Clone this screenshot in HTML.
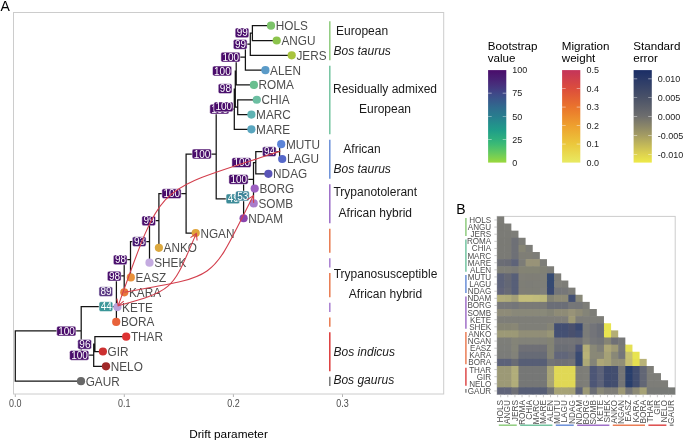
<!DOCTYPE html>
<html><head><meta charset="utf-8"><style>
html,body{margin:0;padding:0;background:#fff;}
svg{display:block;}
text{font-family:"Liberation Sans",sans-serif;}
</style></head><body>
<div style="will-change:transform;width:685px;height:441px"><svg width="685" height="441" viewBox="0 0 685 441">
<rect width="685" height="441" fill="#fff"/>
<rect x="13.5" y="12.5" width="430.2" height="381.5" fill="none" stroke="#cccccc" stroke-width="1"/>
<text x="0.5" y="11" font-size="14" font-family="Liberation Sans, sans-serif" fill="#000">A</text>
<line x1="15.3" y1="394.3" x2="15.3" y2="397" stroke="#b3b3b3" stroke-width="1"/>
<text transform="translate(15.3,406.9) scale(1,1.12)" font-size="9" text-anchor="middle" font-family="Liberation Sans, sans-serif" fill="#4d4d4d">0.0</text>
<line x1="124.3" y1="394.3" x2="124.3" y2="397" stroke="#b3b3b3" stroke-width="1"/>
<text transform="translate(124.3,406.9) scale(1,1.12)" font-size="9" text-anchor="middle" font-family="Liberation Sans, sans-serif" fill="#4d4d4d">0.1</text>
<line x1="233.4" y1="394.3" x2="233.4" y2="397" stroke="#b3b3b3" stroke-width="1"/>
<text transform="translate(233.4,406.9) scale(1,1.12)" font-size="9" text-anchor="middle" font-family="Liberation Sans, sans-serif" fill="#4d4d4d">0.2</text>
<line x1="342.5" y1="394.3" x2="342.5" y2="397" stroke="#b3b3b3" stroke-width="1"/>
<text transform="translate(342.5,406.9) scale(1,1.12)" font-size="9" text-anchor="middle" font-family="Liberation Sans, sans-serif" fill="#4d4d4d">0.3</text>
<text x="228.5" y="437.5" font-size="11.8" text-anchor="middle" font-family="Liberation Sans, sans-serif" fill="#000">Drift parameter</text>
<path d="M252.40 25.70V40.51M252.40 25.70H271.00M252.40 40.51H276.70M250.30 33.10V55.32M250.30 33.10H252.40M250.30 55.32H291.70M245.40 44.21V70.13M245.40 44.21H250.30M245.40 70.13H265.40M236.20 57.17V84.94M236.20 57.17H245.40M236.20 84.94H253.90M237.70 99.75V114.56M237.70 99.75H256.80M237.70 114.56H251.40M235.30 71.06V107.16M235.30 71.06H236.20M235.30 107.16H237.70M234.30 89.11V129.37M234.30 89.11H235.30M234.30 129.37H251.40M279.60 144.18V158.99M279.60 144.18H281.20M279.60 158.99H282.20M255.80 151.58V173.80M255.80 151.58H279.60M255.80 173.80H268.40M253.50 188.61V203.42M253.50 188.61H254.70M253.50 203.42H253.70M253.50 162.69V196.01M253.50 162.69H255.80M243.60 179.35V218.23M243.60 179.35H253.50M216.20 109.24V198.79M216.20 109.24H234.30M216.20 198.79H243.60M186.10 154.01V233.04M186.10 154.01H216.20M186.10 233.04H195.70M158.90 193.53V247.85M158.90 193.53H186.10M149.50 220.69V262.66M149.50 220.69H158.90M130.50 241.67V277.47M130.50 241.67H149.50M130.50 277.47H130.80M124.20 259.57V292.28M124.20 259.57H130.50M124.20 292.28H124.30M116.40 275.93V307.09M116.40 275.93H124.20M116.40 307.09H117.40M116.40 291.51V321.90M116.40 321.90H116.20M94.90 336.71V351.52M94.90 336.71H126.20M94.90 351.52H102.90M93.70 344.12V366.33M93.70 344.12H94.90M93.70 366.33H106.00M81.20 306.70V355.22M81.20 306.70H116.40M81.20 355.22H93.70M15.30 330.96V381.14M15.30 330.96H81.20M15.30 381.14H81.00" fill="none" stroke="#141414" stroke-width="1.25" stroke-linecap="square"/>
<rect x="235.15" y="27.90" width="13.7" height="9.8" rx="1.8" fill="#4a0e6c" stroke="#fff" stroke-width="0.5"/>
<text x="242.30" y="36.35" font-size="10" text-anchor="middle" font-family="Liberation Sans, sans-serif" fill="#fff">99</text>
<rect x="233.35" y="39.50" width="13.7" height="9.8" rx="1.8" fill="#4a0e6c" stroke="#fff" stroke-width="0.5"/>
<text x="240.50" y="47.95" font-size="10" text-anchor="middle" font-family="Liberation Sans, sans-serif" fill="#fff">99</text>
<rect x="220.90" y="52.20" width="19.2" height="9.8" rx="1.8" fill="#4a0c6b" stroke="#fff" stroke-width="0.5"/>
<text x="230.80" y="60.65" font-size="10" text-anchor="middle" font-family="Liberation Sans, sans-serif" fill="#fff">100</text>
<rect x="212.50" y="66.10" width="19.2" height="9.8" rx="1.8" fill="#4a0c6b" stroke="#fff" stroke-width="0.5"/>
<text x="222.40" y="74.55" font-size="10" text-anchor="middle" font-family="Liberation Sans, sans-serif" fill="#fff">100</text>
<rect x="218.25" y="83.80" width="13.7" height="9.8" rx="1.8" fill="#4a106d" stroke="#fff" stroke-width="0.5"/>
<text x="225.40" y="92.25" font-size="10" text-anchor="middle" font-family="Liberation Sans, sans-serif" fill="#fff">98</text>
<rect x="209.80" y="104.20" width="19.2" height="9.8" rx="1.8" fill="#4a0c6b" stroke="#fff" stroke-width="0.5"/>
<text x="219.70" y="112.65" font-size="10" text-anchor="middle" font-family="Liberation Sans, sans-serif" fill="#fff">100</text>
<rect x="213.90" y="102.00" width="19.2" height="9.8" rx="1.8" fill="#4a0c6b" stroke="#fff" stroke-width="0.5"/>
<text x="223.80" y="110.45" font-size="10" text-anchor="middle" font-family="Liberation Sans, sans-serif" fill="#fff">100</text>
<rect x="192.10" y="149.10" width="19.2" height="9.8" rx="1.8" fill="#4a0c6b" stroke="#fff" stroke-width="0.5"/>
<text x="202.00" y="157.55" font-size="10" text-anchor="middle" font-family="Liberation Sans, sans-serif" fill="#fff">100</text>
<rect x="231.90" y="157.70" width="19.2" height="9.8" rx="1.8" fill="#4a0c6b" stroke="#fff" stroke-width="0.5"/>
<text x="241.80" y="166.15" font-size="10" text-anchor="middle" font-family="Liberation Sans, sans-serif" fill="#fff">100</text>
<rect x="262.45" y="146.80" width="13.7" height="9.8" rx="1.8" fill="#491971" stroke="#fff" stroke-width="0.5"/>
<text x="269.60" y="155.25" font-size="10" text-anchor="middle" font-family="Liberation Sans, sans-serif" fill="#fff">94</text>
<rect x="228.90" y="174.50" width="19.2" height="9.8" rx="1.8" fill="#4a0c6b" stroke="#fff" stroke-width="0.5"/>
<text x="238.80" y="182.95" font-size="10" text-anchor="middle" font-family="Liberation Sans, sans-serif" fill="#fff">100</text>
<rect x="161.90" y="188.80" width="19.2" height="9.8" rx="1.8" fill="#4a0c6b" stroke="#fff" stroke-width="0.5"/>
<text x="171.80" y="197.25" font-size="10" text-anchor="middle" font-family="Liberation Sans, sans-serif" fill="#fff">100</text>
<rect x="226.05" y="193.90" width="13.7" height="9.8" rx="1.8" fill="#3d8c99" stroke="#fff" stroke-width="0.5"/>
<text x="233.20" y="202.35" font-size="10" text-anchor="middle" font-family="Liberation Sans, sans-serif" fill="#fff">49</text>
<rect x="235.55" y="191.10" width="13.7" height="9.8" rx="1.8" fill="#3f8599" stroke="#fff" stroke-width="0.5"/>
<text x="242.70" y="199.55" font-size="10" text-anchor="middle" font-family="Liberation Sans, sans-serif" fill="#fff">53</text>
<rect x="141.85" y="215.90" width="13.7" height="9.8" rx="1.8" fill="#4a0e6c" stroke="#fff" stroke-width="0.5"/>
<text x="149.00" y="224.35" font-size="10" text-anchor="middle" font-family="Liberation Sans, sans-serif" fill="#fff">99</text>
<rect x="132.35" y="236.80" width="13.7" height="9.8" rx="1.8" fill="#491b72" stroke="#fff" stroke-width="0.5"/>
<text x="139.50" y="245.25" font-size="10" text-anchor="middle" font-family="Liberation Sans, sans-serif" fill="#fff">93</text>
<rect x="113.35" y="254.90" width="13.7" height="9.8" rx="1.8" fill="#4a106d" stroke="#fff" stroke-width="0.5"/>
<text x="120.50" y="263.35" font-size="10" text-anchor="middle" font-family="Liberation Sans, sans-serif" fill="#fff">98</text>
<rect x="107.35" y="271.20" width="13.7" height="9.8" rx="1.8" fill="#4a106d" stroke="#fff" stroke-width="0.5"/>
<text x="114.50" y="279.65" font-size="10" text-anchor="middle" font-family="Liberation Sans, sans-serif" fill="#fff">98</text>
<rect x="98.95" y="286.70" width="13.7" height="9.8" rx="1.8" fill="#5a3a84" stroke="#fff" stroke-width="0.5"/>
<text x="106.10" y="295.15" font-size="10" text-anchor="middle" font-family="Liberation Sans, sans-serif" fill="#fff">89</text>
<rect x="99.05" y="301.70" width="13.7" height="9.8" rx="1.8" fill="#3a9698" stroke="#fff" stroke-width="0.5"/>
<text x="106.20" y="310.15" font-size="10" text-anchor="middle" font-family="Liberation Sans, sans-serif" fill="#fff">44</text>
<rect x="56.70" y="326.20" width="19.2" height="9.8" rx="1.8" fill="#4a0c6b" stroke="#fff" stroke-width="0.5"/>
<text x="66.60" y="334.65" font-size="10" text-anchor="middle" font-family="Liberation Sans, sans-serif" fill="#fff">100</text>
<rect x="77.75" y="339.40" width="13.7" height="9.8" rx="1.8" fill="#49156f" stroke="#fff" stroke-width="0.5"/>
<text x="84.90" y="347.85" font-size="10" text-anchor="middle" font-family="Liberation Sans, sans-serif" fill="#fff">96</text>
<rect x="69.60" y="350.40" width="19.2" height="9.8" rx="1.8" fill="#4a0c6b" stroke="#fff" stroke-width="0.5"/>
<text x="79.50" y="358.85" font-size="10" text-anchor="middle" font-family="Liberation Sans, sans-serif" fill="#fff">100</text>
<circle cx="271" cy="25.70" r="4.1" fill="#7cc36a"/>
<circle cx="276.7" cy="40.51" r="4.1" fill="#8cc44c"/>
<circle cx="291.7" cy="55.32" r="4.1" fill="#a8c43e"/>
<circle cx="265.4" cy="70.13" r="4.1" fill="#5b9bc8"/>
<circle cx="253.9" cy="84.94" r="4.1" fill="#6abf90"/>
<circle cx="256.8" cy="99.75" r="4.1" fill="#6cbfa2"/>
<circle cx="251.4" cy="114.56" r="4.1" fill="#5fb3b3"/>
<circle cx="251.4" cy="129.37" r="4.1" fill="#5aa6bf"/>
<circle cx="281.2" cy="144.18" r="4.1" fill="#5b84d8"/>
<circle cx="282.2" cy="158.99" r="4.1" fill="#5668c9"/>
<circle cx="268.4" cy="173.80" r="4.1" fill="#5a55b8"/>
<circle cx="254.7" cy="188.61" r="4.1" fill="#9c60c2"/>
<circle cx="253.7" cy="203.42" r="4.1" fill="#a87ccb"/>
<circle cx="243.6" cy="218.23" r="4.1" fill="#8a45ad"/>
<circle cx="195.7" cy="233.04" r="4.1" fill="#e0a33a"/>
<circle cx="158.9" cy="247.85" r="4.1" fill="#dba83e"/>
<circle cx="149.5" cy="262.66" r="4.1" fill="#c4abe0"/>
<circle cx="130.8" cy="277.47" r="4.1" fill="#e8913a"/>
<circle cx="124.3" cy="292.28" r="4.1" fill="#e8783a"/>
<circle cx="117.4" cy="307.09" r="4.1" fill="#b9a2da"/>
<circle cx="116.2" cy="321.90" r="4.1" fill="#e8623a"/>
<circle cx="126.2" cy="336.71" r="4.1" fill="#dd3333"/>
<circle cx="102.9" cy="351.52" r="4.1" fill="#cc3030"/>
<circle cx="106" cy="366.33" r="4.1" fill="#a02828"/>
<circle cx="81" cy="381.14" r="4.1" fill="#686868"/>
<text transform="translate(275.70,30.20) scale(1,1.12)" font-size="11.8" font-family="Liberation Sans, sans-serif" fill="#4d4d4d">HOLS</text>
<text transform="translate(281.40,45.01) scale(1,1.12)" font-size="11.8" font-family="Liberation Sans, sans-serif" fill="#4d4d4d">ANGU</text>
<text transform="translate(296.40,59.82) scale(1,1.12)" font-size="11.8" font-family="Liberation Sans, sans-serif" fill="#4d4d4d">JERS</text>
<text transform="translate(270.10,74.63) scale(1,1.12)" font-size="11.8" font-family="Liberation Sans, sans-serif" fill="#4d4d4d">ALEN</text>
<text transform="translate(258.60,89.44) scale(1,1.12)" font-size="11.8" font-family="Liberation Sans, sans-serif" fill="#4d4d4d">ROMA</text>
<text transform="translate(261.50,104.25) scale(1,1.12)" font-size="11.8" font-family="Liberation Sans, sans-serif" fill="#4d4d4d">CHIA</text>
<text transform="translate(256.10,119.06) scale(1,1.12)" font-size="11.8" font-family="Liberation Sans, sans-serif" fill="#4d4d4d">MARC</text>
<text transform="translate(256.10,133.87) scale(1,1.12)" font-size="11.8" font-family="Liberation Sans, sans-serif" fill="#4d4d4d">MARE</text>
<text transform="translate(285.90,148.68) scale(1,1.12)" font-size="11.8" font-family="Liberation Sans, sans-serif" fill="#4d4d4d">MUTU</text>
<text transform="translate(286.90,163.49) scale(1,1.12)" font-size="11.8" font-family="Liberation Sans, sans-serif" fill="#4d4d4d">LAGU</text>
<text transform="translate(273.10,178.30) scale(1,1.12)" font-size="11.8" font-family="Liberation Sans, sans-serif" fill="#4d4d4d">NDAG</text>
<text transform="translate(259.40,193.11) scale(1,1.12)" font-size="11.8" font-family="Liberation Sans, sans-serif" fill="#4d4d4d">BORG</text>
<text transform="translate(258.40,207.92) scale(1,1.12)" font-size="11.8" font-family="Liberation Sans, sans-serif" fill="#4d4d4d">SOMB</text>
<text transform="translate(248.30,222.73) scale(1,1.12)" font-size="11.8" font-family="Liberation Sans, sans-serif" fill="#4d4d4d">NDAM</text>
<text transform="translate(200.40,237.54) scale(1,1.12)" font-size="11.8" font-family="Liberation Sans, sans-serif" fill="#4d4d4d">NGAN</text>
<text transform="translate(163.60,252.35) scale(1,1.12)" font-size="11.8" font-family="Liberation Sans, sans-serif" fill="#4d4d4d">ANKO</text>
<text transform="translate(154.20,267.16) scale(1,1.12)" font-size="11.8" font-family="Liberation Sans, sans-serif" fill="#4d4d4d">SHEK</text>
<text transform="translate(135.50,281.97) scale(1,1.12)" font-size="11.8" font-family="Liberation Sans, sans-serif" fill="#4d4d4d">EASZ</text>
<text transform="translate(129.00,296.78) scale(1,1.12)" font-size="11.8" font-family="Liberation Sans, sans-serif" fill="#4d4d4d">KARA</text>
<text transform="translate(122.10,311.59) scale(1,1.12)" font-size="11.8" font-family="Liberation Sans, sans-serif" fill="#4d4d4d">KETE</text>
<text transform="translate(120.90,326.40) scale(1,1.12)" font-size="11.8" font-family="Liberation Sans, sans-serif" fill="#4d4d4d">BORA</text>
<text transform="translate(130.90,341.21) scale(1,1.12)" font-size="11.8" font-family="Liberation Sans, sans-serif" fill="#4d4d4d">THAR</text>
<text transform="translate(107.60,356.02) scale(1,1.12)" font-size="11.8" font-family="Liberation Sans, sans-serif" fill="#4d4d4d">GIR</text>
<text transform="translate(110.70,370.83) scale(1,1.12)" font-size="11.8" font-family="Liberation Sans, sans-serif" fill="#4d4d4d">NELO</text>
<text transform="translate(85.70,385.64) scale(1,1.12)" font-size="11.8" font-family="Liberation Sans, sans-serif" fill="#4d4d4d">GAUR</text>
<path d="M280.40 151.10C154.95 193.35 164.49 176.28 118.20 305.80" fill="none" stroke="#d33f4d" stroke-width="1.1"/>
<path d="M123.69 301.14L118.20 305.80L116.91 298.72" fill="none" stroke="#d33f4d" stroke-width="1.1" stroke-linejoin="miter"/>
<path d="M118.20 305.80C176.43 289.83 172.39 288.29 196.30 233.40" fill="none" stroke="#d33f4d" stroke-width="1.1"/>
<path d="M190.51 237.68L196.30 233.40L197.11 240.55" fill="none" stroke="#d33f4d" stroke-width="1.1" stroke-linejoin="miter"/>
<path d="M124.30 292.20C221.73 274.90 209.41 281.25 253.30 195.70" fill="none" stroke="#d33f4d" stroke-width="1.1"/>
<path d="M247.25 199.60L253.30 195.70L253.66 202.89" fill="none" stroke="#d33f4d" stroke-width="1.1" stroke-linejoin="miter"/>
<line x1="329.8" y1="21.30" x2="329.8" y2="60.22" stroke="#8fcc7e" stroke-width="1.5"/>
<line x1="329.8" y1="65.73" x2="329.8" y2="134.27" stroke="#74c4a0" stroke-width="1.5"/>
<line x1="329.8" y1="139.78" x2="329.8" y2="178.70" stroke="#6a8fd8" stroke-width="1.5"/>
<line x1="329.8" y1="184.21" x2="329.8" y2="223.13" stroke="#9b6cc7" stroke-width="1.5"/>
<line x1="329.8" y1="228.64" x2="329.8" y2="252.75" stroke="#e8794e" stroke-width="1.5"/>
<line x1="329.8" y1="258.26" x2="329.8" y2="267.56" stroke="#a87ed0" stroke-width="1.5"/>
<line x1="329.8" y1="273.07" x2="329.8" y2="297.18" stroke="#e8794e" stroke-width="1.5"/>
<line x1="329.8" y1="302.69" x2="329.8" y2="311.99" stroke="#a87ed0" stroke-width="1.5"/>
<line x1="329.8" y1="317.50" x2="329.8" y2="326.80" stroke="#e8794e" stroke-width="1.5"/>
<line x1="329.8" y1="332.31" x2="329.8" y2="371.23" stroke="#dd3a3a" stroke-width="1.5"/>
<line x1="329.8" y1="376.74" x2="329.8" y2="386.04" stroke="#777777" stroke-width="1.5"/>
<text x="362.1" y="35.2" font-size="12" text-anchor="middle" font-family="Liberation Sans, sans-serif" fill="#1a1a1a">European</text>
<text x="362.2" y="55.2" font-size="12" text-anchor="middle" font-family="Liberation Sans, sans-serif" font-style="italic" fill="#1a1a1a">Bos taurus</text>
<text x="385" y="92.8" font-size="12" text-anchor="middle" font-family="Liberation Sans, sans-serif" fill="#1a1a1a">Residually admixed</text>
<text x="385" y="112.9" font-size="12" text-anchor="middle" font-family="Liberation Sans, sans-serif" fill="#1a1a1a">European</text>
<text x="362" y="152.7" font-size="12" text-anchor="middle" font-family="Liberation Sans, sans-serif" fill="#1a1a1a">African</text>
<text x="362.2" y="173.1" font-size="12" text-anchor="middle" font-family="Liberation Sans, sans-serif" font-style="italic" fill="#1a1a1a">Bos taurus</text>
<text x="375.3" y="196.2" font-size="12" text-anchor="middle" font-family="Liberation Sans, sans-serif" fill="#1a1a1a">Trypanotolerant</text>
<text x="375.3" y="216.7" font-size="12" text-anchor="middle" font-family="Liberation Sans, sans-serif" fill="#1a1a1a">African hybrid</text>
<text x="385.5" y="277.8" font-size="12" text-anchor="middle" font-family="Liberation Sans, sans-serif" fill="#1a1a1a">Trypanosusceptible</text>
<text x="385.5" y="298.3" font-size="12" text-anchor="middle" font-family="Liberation Sans, sans-serif" fill="#1a1a1a">African hybrid</text>
<text x="364.3" y="355.9" font-size="12" text-anchor="middle" font-family="Liberation Sans, sans-serif" font-style="italic" fill="#1a1a1a">Bos indicus</text>
<text x="363.8" y="384.4" font-size="12" text-anchor="middle" font-family="Liberation Sans, sans-serif" font-style="italic" fill="#1a1a1a">Bos gaurus</text>
<defs><linearGradient id="gB" x1="0" y1="0" x2="0" y2="1"><stop offset="0.000" stop-color="#4a0c6b"/><stop offset="0.050" stop-color="#491770"/><stop offset="0.100" stop-color="#482175"/><stop offset="0.150" stop-color="#472d7b"/><stop offset="0.200" stop-color="#433a81"/><stop offset="0.250" stop-color="#3f4788"/><stop offset="0.300" stop-color="#3a538a"/><stop offset="0.350" stop-color="#355e8c"/><stop offset="0.400" stop-color="#306a8e"/><stop offset="0.450" stop-color="#2c748e"/><stop offset="0.500" stop-color="#287d8e"/><stop offset="0.550" stop-color="#25888d"/><stop offset="0.600" stop-color="#22938b"/><stop offset="0.650" stop-color="#1f9d89"/><stop offset="0.700" stop-color="#27a783"/><stop offset="0.750" stop-color="#2fb07d"/><stop offset="0.800" stop-color="#3cba75"/><stop offset="0.850" stop-color="#51c269"/><stop offset="0.900" stop-color="#67ca5d"/><stop offset="0.950" stop-color="#80d24d"/><stop offset="1.000" stop-color="#9bd83c"/></linearGradient><linearGradient id="gM" x1="0" y1="0" x2="0" y2="1"><stop offset="0" stop-color="#c4345a"/><stop offset="0.2" stop-color="#dc4d3c"/><stop offset="0.4" stop-color="#ea742c"/><stop offset="0.6" stop-color="#eea02e"/><stop offset="0.8" stop-color="#ebc83c"/><stop offset="1" stop-color="#e8ea62"/></linearGradient><linearGradient id="gS" x1="0" y1="0" x2="0" y2="1"><stop offset="0" stop-color="#1a2d66"/><stop offset="0.1" stop-color="#2a3a68"/><stop offset="0.3" stop-color="#4a5268"/><stop offset="0.5" stop-color="#6e6e6e"/><stop offset="0.7" stop-color="#a39b63"/><stop offset="0.9" stop-color="#dcd050"/><stop offset="1" stop-color="#eeea48"/></linearGradient></defs>
<text x="487.8" y="50.2" font-size="11.6" font-family="Liberation Sans, sans-serif" fill="#000">Bootstrap</text>
<text x="487.8" y="62.2" font-size="11.6" font-family="Liberation Sans, sans-serif" fill="#000">value</text>
<rect x="488.1" y="70.1" width="18.2" height="92.5" fill="url(#gB)"/>
<text transform="translate(512.3,73.35) scale(1,1.1)" font-size="9" font-family="Liberation Sans, sans-serif" fill="#1a1a1a">100</text>
<line x1="488.1" y1="93.2" x2="491.7" y2="93.2" stroke="#fff" stroke-width="0.6" opacity="0.8"/>
<line x1="502.7" y1="93.2" x2="506.3" y2="93.2" stroke="#fff" stroke-width="0.6" opacity="0.8"/>
<text transform="translate(512.3,96.45) scale(1,1.1)" font-size="9" font-family="Liberation Sans, sans-serif" fill="#1a1a1a">75</text>
<line x1="488.1" y1="116.3" x2="491.7" y2="116.3" stroke="#fff" stroke-width="0.6" opacity="0.8"/>
<line x1="502.7" y1="116.3" x2="506.3" y2="116.3" stroke="#fff" stroke-width="0.6" opacity="0.8"/>
<text transform="translate(512.3,119.55) scale(1,1.1)" font-size="9" font-family="Liberation Sans, sans-serif" fill="#1a1a1a">50</text>
<line x1="488.1" y1="139.4" x2="491.7" y2="139.4" stroke="#fff" stroke-width="0.6" opacity="0.8"/>
<line x1="502.7" y1="139.4" x2="506.3" y2="139.4" stroke="#fff" stroke-width="0.6" opacity="0.8"/>
<text transform="translate(512.3,142.65) scale(1,1.1)" font-size="9" font-family="Liberation Sans, sans-serif" fill="#1a1a1a">25</text>
<text transform="translate(512.3,165.75) scale(1,1.1)" font-size="9" font-family="Liberation Sans, sans-serif" fill="#1a1a1a">0</text>
<text x="561.8" y="50.2" font-size="11.6" font-family="Liberation Sans, sans-serif" fill="#000">Migration</text>
<text x="561.8" y="62.2" font-size="11.6" font-family="Liberation Sans, sans-serif" fill="#000">weight</text>
<rect x="562.0999999999999" y="70.1" width="18.2" height="92.5" fill="url(#gM)"/>
<text transform="translate(586.4,73.35) scale(1,1.1)" font-size="9" font-family="Liberation Sans, sans-serif" fill="#1a1a1a">0.5</text>
<line x1="562.0999999999999" y1="88.6" x2="565.6999999999999" y2="88.6" stroke="#fff" stroke-width="0.6" opacity="0.8"/>
<line x1="576.6999999999999" y1="88.6" x2="580.3" y2="88.6" stroke="#fff" stroke-width="0.6" opacity="0.8"/>
<text transform="translate(586.4,91.85) scale(1,1.1)" font-size="9" font-family="Liberation Sans, sans-serif" fill="#1a1a1a">0.4</text>
<line x1="562.0999999999999" y1="107.1" x2="565.6999999999999" y2="107.1" stroke="#fff" stroke-width="0.6" opacity="0.8"/>
<line x1="576.6999999999999" y1="107.1" x2="580.3" y2="107.1" stroke="#fff" stroke-width="0.6" opacity="0.8"/>
<text transform="translate(586.4,110.35) scale(1,1.1)" font-size="9" font-family="Liberation Sans, sans-serif" fill="#1a1a1a">0.3</text>
<line x1="562.0999999999999" y1="125.6" x2="565.6999999999999" y2="125.6" stroke="#fff" stroke-width="0.6" opacity="0.8"/>
<line x1="576.6999999999999" y1="125.6" x2="580.3" y2="125.6" stroke="#fff" stroke-width="0.6" opacity="0.8"/>
<text transform="translate(586.4,128.85) scale(1,1.1)" font-size="9" font-family="Liberation Sans, sans-serif" fill="#1a1a1a">0.2</text>
<line x1="562.0999999999999" y1="144.1" x2="565.6999999999999" y2="144.1" stroke="#fff" stroke-width="0.6" opacity="0.8"/>
<line x1="576.6999999999999" y1="144.1" x2="580.3" y2="144.1" stroke="#fff" stroke-width="0.6" opacity="0.8"/>
<text transform="translate(586.4,147.35) scale(1,1.1)" font-size="9" font-family="Liberation Sans, sans-serif" fill="#1a1a1a">0.1</text>
<text transform="translate(586.4,165.75) scale(1,1.1)" font-size="9" font-family="Liberation Sans, sans-serif" fill="#1a1a1a">0.0</text>
<text x="633.3" y="50.2" font-size="11.6" font-family="Liberation Sans, sans-serif" fill="#000">Standard</text>
<text x="633.3" y="62.2" font-size="11.6" font-family="Liberation Sans, sans-serif" fill="#000">error</text>
<rect x="633.5999999999999" y="70.1" width="18.2" height="92.5" fill="url(#gS)"/>
<line x1="633.5999999999999" y1="78.8" x2="637.1999999999999" y2="78.8" stroke="#fff" stroke-width="0.6" opacity="0.8"/>
<line x1="648.1999999999999" y1="78.8" x2="651.8" y2="78.8" stroke="#fff" stroke-width="0.6" opacity="0.8"/>
<text transform="translate(657.8,82.05) scale(1,1.1)" font-size="9" font-family="Liberation Sans, sans-serif" fill="#1a1a1a">0.010</text>
<line x1="633.5999999999999" y1="97.7" x2="637.1999999999999" y2="97.7" stroke="#fff" stroke-width="0.6" opacity="0.8"/>
<line x1="648.1999999999999" y1="97.7" x2="651.8" y2="97.7" stroke="#fff" stroke-width="0.6" opacity="0.8"/>
<text transform="translate(657.8,100.95) scale(1,1.1)" font-size="9" font-family="Liberation Sans, sans-serif" fill="#1a1a1a">0.005</text>
<line x1="633.5999999999999" y1="116.6" x2="637.1999999999999" y2="116.6" stroke="#fff" stroke-width="0.6" opacity="0.8"/>
<line x1="648.1999999999999" y1="116.6" x2="651.8" y2="116.6" stroke="#fff" stroke-width="0.6" opacity="0.8"/>
<text transform="translate(657.8,119.85) scale(1,1.1)" font-size="9" font-family="Liberation Sans, sans-serif" fill="#1a1a1a">0.000</text>
<line x1="633.5999999999999" y1="135.5" x2="637.1999999999999" y2="135.5" stroke="#fff" stroke-width="0.6" opacity="0.8"/>
<line x1="648.1999999999999" y1="135.5" x2="651.8" y2="135.5" stroke="#fff" stroke-width="0.6" opacity="0.8"/>
<text transform="translate(657.8,138.75) scale(1,1.1)" font-size="9" font-family="Liberation Sans, sans-serif" fill="#1a1a1a">-0.005</text>
<line x1="633.5999999999999" y1="154.4" x2="637.1999999999999" y2="154.4" stroke="#fff" stroke-width="0.6" opacity="0.8"/>
<line x1="648.1999999999999" y1="154.4" x2="651.8" y2="154.4" stroke="#fff" stroke-width="0.6" opacity="0.8"/>
<text transform="translate(657.8,157.65) scale(1,1.1)" font-size="9" font-family="Liberation Sans, sans-serif" fill="#1a1a1a">-0.010</text>
<text x="456.3" y="214" font-size="14" font-family="Liberation Sans, sans-serif" fill="#000">B</text>
<rect x="497.1" y="216.4" width="178.10" height="178.10" fill="none" stroke="#cccccc" stroke-width="1"/>
<rect x="497.100" y="216.400" width="7.124" height="7.724" fill="#7d7d78"/>
<rect x="497.100" y="223.524" width="7.724" height="7.724" fill="#7b7b76"/>
<rect x="504.224" y="223.524" width="7.124" height="7.724" fill="#7d7d78"/>
<rect x="497.100" y="230.648" width="7.724" height="7.724" fill="#7b7b76"/>
<rect x="504.224" y="230.648" width="7.724" height="7.724" fill="#7b7b76"/>
<rect x="511.348" y="230.648" width="7.124" height="7.724" fill="#7d7d78"/>
<rect x="497.100" y="237.772" width="7.724" height="7.724" fill="#7a7a75"/>
<rect x="504.224" y="237.772" width="7.724" height="7.724" fill="#7a7a75"/>
<rect x="511.348" y="237.772" width="7.724" height="7.724" fill="#6e7076"/>
<rect x="518.472" y="237.772" width="7.124" height="7.724" fill="#7d7d78"/>
<rect x="497.100" y="244.896" width="7.724" height="7.724" fill="#7a7a75"/>
<rect x="504.224" y="244.896" width="7.724" height="7.724" fill="#7a7a75"/>
<rect x="511.348" y="244.896" width="7.724" height="7.724" fill="#6e7076"/>
<rect x="518.472" y="244.896" width="7.724" height="7.724" fill="#868575"/>
<rect x="525.596" y="244.896" width="7.124" height="7.724" fill="#7d7d78"/>
<rect x="497.100" y="252.020" width="7.724" height="7.724" fill="#7a7a75"/>
<rect x="504.224" y="252.020" width="7.724" height="7.724" fill="#7a7a75"/>
<rect x="511.348" y="252.020" width="7.724" height="7.724" fill="#6e7076"/>
<rect x="518.472" y="252.020" width="7.724" height="7.724" fill="#7f7e76"/>
<rect x="525.596" y="252.020" width="7.724" height="7.724" fill="#7f7e76"/>
<rect x="532.720" y="252.020" width="7.124" height="7.724" fill="#7d7d78"/>
<rect x="497.100" y="259.144" width="7.724" height="7.724" fill="#6b6d75"/>
<rect x="504.224" y="259.144" width="7.724" height="7.724" fill="#696b75"/>
<rect x="511.348" y="259.144" width="7.724" height="7.724" fill="#5e6379"/>
<rect x="518.472" y="259.144" width="7.724" height="7.724" fill="#7c7c77"/>
<rect x="525.596" y="259.144" width="7.724" height="7.724" fill="#989378"/>
<rect x="532.720" y="259.144" width="7.724" height="7.724" fill="#989378"/>
<rect x="539.844" y="259.144" width="7.124" height="7.724" fill="#7d7d78"/>
<rect x="497.100" y="266.268" width="7.724" height="7.724" fill="#7e7e76"/>
<rect x="504.224" y="266.268" width="7.724" height="7.724" fill="#7e7e76"/>
<rect x="511.348" y="266.268" width="7.724" height="7.724" fill="#7b7b76"/>
<rect x="518.472" y="266.268" width="7.724" height="7.724" fill="#848374"/>
<rect x="525.596" y="266.268" width="7.724" height="7.724" fill="#838374"/>
<rect x="532.720" y="266.268" width="7.724" height="7.724" fill="#838374"/>
<rect x="539.844" y="266.268" width="7.724" height="7.724" fill="#808075"/>
<rect x="546.968" y="266.268" width="7.124" height="7.724" fill="#7d7d78"/>
<rect x="497.100" y="273.392" width="7.724" height="7.724" fill="#5c6279"/>
<rect x="504.224" y="273.392" width="7.724" height="7.724" fill="#656874"/>
<rect x="511.348" y="273.392" width="7.724" height="7.724" fill="#575f78"/>
<rect x="518.472" y="273.392" width="7.724" height="7.724" fill="#807f77"/>
<rect x="525.596" y="273.392" width="7.724" height="7.724" fill="#7f7e76"/>
<rect x="532.720" y="273.392" width="7.724" height="7.724" fill="#7f7e76"/>
<rect x="539.844" y="273.392" width="7.724" height="7.724" fill="#7f7f78"/>
<rect x="546.968" y="273.392" width="7.724" height="7.724" fill="#354a72"/>
<rect x="554.092" y="273.392" width="7.124" height="7.724" fill="#7d7d78"/>
<rect x="497.100" y="280.516" width="7.724" height="7.724" fill="#5c6279"/>
<rect x="504.224" y="280.516" width="7.724" height="7.724" fill="#636775"/>
<rect x="511.348" y="280.516" width="7.724" height="7.724" fill="#575f78"/>
<rect x="518.472" y="280.516" width="7.724" height="7.724" fill="#7e7e76"/>
<rect x="525.596" y="280.516" width="7.724" height="7.724" fill="#7d7d77"/>
<rect x="532.720" y="280.516" width="7.724" height="7.724" fill="#7e7e77"/>
<rect x="539.844" y="280.516" width="7.724" height="7.724" fill="#7f7f78"/>
<rect x="546.968" y="280.516" width="7.724" height="7.724" fill="#354a72"/>
<rect x="554.092" y="280.516" width="7.724" height="7.724" fill="#80807a"/>
<rect x="561.216" y="280.516" width="7.124" height="7.724" fill="#7d7d78"/>
<rect x="497.100" y="287.640" width="7.724" height="7.724" fill="#616479"/>
<rect x="504.224" y="287.640" width="7.724" height="7.724" fill="#676a75"/>
<rect x="511.348" y="287.640" width="7.724" height="7.724" fill="#575f78"/>
<rect x="518.472" y="287.640" width="7.724" height="7.724" fill="#7f7e76"/>
<rect x="525.596" y="287.640" width="7.724" height="7.724" fill="#7e7e76"/>
<rect x="532.720" y="287.640" width="7.724" height="7.724" fill="#7e7e76"/>
<rect x="539.844" y="287.640" width="7.724" height="7.724" fill="#80807b"/>
<rect x="546.968" y="287.640" width="7.724" height="7.724" fill="#394971"/>
<rect x="554.092" y="287.640" width="7.724" height="7.724" fill="#747679"/>
<rect x="561.216" y="287.640" width="7.724" height="7.724" fill="#767779"/>
<rect x="568.340" y="287.640" width="7.124" height="7.724" fill="#7d7d78"/>
<rect x="497.100" y="294.764" width="7.724" height="7.724" fill="#b2ad7a"/>
<rect x="504.224" y="294.764" width="7.724" height="7.724" fill="#afab79"/>
<rect x="511.348" y="294.764" width="7.724" height="7.724" fill="#a39f78"/>
<rect x="518.472" y="294.764" width="7.724" height="7.724" fill="#c4be7b"/>
<rect x="525.596" y="294.764" width="7.724" height="7.724" fill="#c4be7b"/>
<rect x="532.720" y="294.764" width="7.724" height="7.724" fill="#c1bc7c"/>
<rect x="539.844" y="294.764" width="7.724" height="7.724" fill="#beb97b"/>
<rect x="546.968" y="294.764" width="7.724" height="7.724" fill="#838374"/>
<rect x="554.092" y="294.764" width="7.724" height="7.724" fill="#8e8b76"/>
<rect x="561.216" y="294.764" width="7.724" height="7.724" fill="#8e8b76"/>
<rect x="568.340" y="294.764" width="7.724" height="7.724" fill="#435074"/>
<rect x="575.464" y="294.764" width="7.124" height="7.724" fill="#898979"/>
<rect x="497.100" y="301.888" width="7.724" height="7.724" fill="#777879"/>
<rect x="504.224" y="301.888" width="7.724" height="7.724" fill="#777879"/>
<rect x="511.348" y="301.888" width="7.724" height="7.724" fill="#747679"/>
<rect x="518.472" y="301.888" width="7.724" height="7.724" fill="#7a7a77"/>
<rect x="525.596" y="301.888" width="7.724" height="7.724" fill="#7a7a77"/>
<rect x="532.720" y="301.888" width="7.724" height="7.724" fill="#7a7a77"/>
<rect x="539.844" y="301.888" width="7.724" height="7.724" fill="#7a7a77"/>
<rect x="546.968" y="301.888" width="7.724" height="7.724" fill="#6b6e77"/>
<rect x="554.092" y="301.888" width="7.724" height="7.724" fill="#6b6e77"/>
<rect x="561.216" y="301.888" width="7.724" height="7.724" fill="#6b6e77"/>
<rect x="568.340" y="301.888" width="7.724" height="7.724" fill="#767778"/>
<rect x="575.464" y="301.888" width="7.724" height="7.724" fill="#757678"/>
<rect x="582.588" y="301.888" width="7.124" height="7.724" fill="#7d7d78"/>
<rect x="497.100" y="309.012" width="7.724" height="7.724" fill="#8e8b78"/>
<rect x="504.224" y="309.012" width="7.724" height="7.724" fill="#8e8b78"/>
<rect x="511.348" y="309.012" width="7.724" height="7.724" fill="#898879"/>
<rect x="518.472" y="309.012" width="7.724" height="7.724" fill="#898879"/>
<rect x="525.596" y="309.012" width="7.724" height="7.724" fill="#898879"/>
<rect x="532.720" y="309.012" width="7.724" height="7.724" fill="#898879"/>
<rect x="539.844" y="309.012" width="7.724" height="7.724" fill="#898979"/>
<rect x="546.968" y="309.012" width="7.724" height="7.724" fill="#848476"/>
<rect x="554.092" y="309.012" width="7.724" height="7.724" fill="#8e8b76"/>
<rect x="561.216" y="309.012" width="7.724" height="7.724" fill="#8e8b76"/>
<rect x="568.340" y="309.012" width="7.724" height="7.724" fill="#989378"/>
<rect x="575.464" y="309.012" width="7.724" height="7.724" fill="#8e8b76"/>
<rect x="582.588" y="309.012" width="7.724" height="7.724" fill="#848478"/>
<rect x="589.712" y="309.012" width="7.124" height="7.724" fill="#7d7d78"/>
<rect x="497.100" y="316.136" width="7.724" height="7.724" fill="#7e7e78"/>
<rect x="504.224" y="316.136" width="7.724" height="7.724" fill="#7e7e78"/>
<rect x="511.348" y="316.136" width="7.724" height="7.724" fill="#7e7e78"/>
<rect x="518.472" y="316.136" width="7.724" height="7.724" fill="#7e7e78"/>
<rect x="525.596" y="316.136" width="7.724" height="7.724" fill="#7e7e78"/>
<rect x="532.720" y="316.136" width="7.724" height="7.724" fill="#7e7e78"/>
<rect x="539.844" y="316.136" width="7.724" height="7.724" fill="#7e7e78"/>
<rect x="546.968" y="316.136" width="7.724" height="7.724" fill="#7f7e78"/>
<rect x="554.092" y="316.136" width="7.724" height="7.724" fill="#7f7e79"/>
<rect x="561.216" y="316.136" width="7.724" height="7.724" fill="#7f7e79"/>
<rect x="568.340" y="316.136" width="7.724" height="7.724" fill="#9e9975"/>
<rect x="575.464" y="316.136" width="7.724" height="7.724" fill="#7d7d79"/>
<rect x="582.588" y="316.136" width="7.724" height="7.724" fill="#7e7e79"/>
<rect x="589.712" y="316.136" width="7.724" height="7.724" fill="#7e7e79"/>
<rect x="596.836" y="316.136" width="7.124" height="7.724" fill="#7d7d78"/>
<rect x="497.100" y="323.260" width="7.724" height="7.724" fill="#868574"/>
<rect x="504.224" y="323.260" width="7.724" height="7.724" fill="#868574"/>
<rect x="511.348" y="323.260" width="7.724" height="7.724" fill="#898775"/>
<rect x="518.472" y="323.260" width="7.724" height="7.724" fill="#7f7f78"/>
<rect x="525.596" y="323.260" width="7.724" height="7.724" fill="#7f7f78"/>
<rect x="532.720" y="323.260" width="7.724" height="7.724" fill="#7f7f78"/>
<rect x="539.844" y="323.260" width="7.724" height="7.724" fill="#7f7f78"/>
<rect x="546.968" y="323.260" width="7.724" height="7.724" fill="#858475"/>
<rect x="554.092" y="323.260" width="7.724" height="7.724" fill="#424e72"/>
<rect x="561.216" y="323.260" width="7.724" height="7.724" fill="#424e72"/>
<rect x="568.340" y="323.260" width="7.724" height="7.724" fill="#49506e"/>
<rect x="575.464" y="323.260" width="7.724" height="7.724" fill="#394871"/>
<rect x="582.588" y="323.260" width="7.724" height="7.724" fill="#7b7c79"/>
<rect x="589.712" y="323.260" width="7.724" height="7.724" fill="#737479"/>
<rect x="596.836" y="323.260" width="7.724" height="7.724" fill="#6b6e77"/>
<rect x="603.960" y="323.260" width="7.124" height="7.724" fill="#e8e450"/>
<rect x="497.100" y="330.384" width="7.724" height="7.724" fill="#9c9976"/>
<rect x="504.224" y="330.384" width="7.724" height="7.724" fill="#9c9976"/>
<rect x="511.348" y="330.384" width="7.724" height="7.724" fill="#9c9976"/>
<rect x="518.472" y="330.384" width="7.724" height="7.724" fill="#918e77"/>
<rect x="525.596" y="330.384" width="7.724" height="7.724" fill="#918e77"/>
<rect x="532.720" y="330.384" width="7.724" height="7.724" fill="#918e77"/>
<rect x="539.844" y="330.384" width="7.724" height="7.724" fill="#918e77"/>
<rect x="546.968" y="330.384" width="7.724" height="7.724" fill="#989576"/>
<rect x="554.092" y="330.384" width="7.724" height="7.724" fill="#445073"/>
<rect x="561.216" y="330.384" width="7.724" height="7.724" fill="#445073"/>
<rect x="568.340" y="330.384" width="7.724" height="7.724" fill="#49506e"/>
<rect x="575.464" y="330.384" width="7.724" height="7.724" fill="#445073"/>
<rect x="582.588" y="330.384" width="7.724" height="7.724" fill="#7b7c79"/>
<rect x="589.712" y="330.384" width="7.724" height="7.724" fill="#737479"/>
<rect x="596.836" y="330.384" width="7.724" height="7.724" fill="#6b6e77"/>
<rect x="603.960" y="330.384" width="7.724" height="7.724" fill="#e8e450"/>
<rect x="611.084" y="330.384" width="7.124" height="7.724" fill="#b4ae75"/>
<rect x="497.100" y="337.508" width="7.724" height="7.724" fill="#7d7e79"/>
<rect x="504.224" y="337.508" width="7.724" height="7.724" fill="#7d7e79"/>
<rect x="511.348" y="337.508" width="7.724" height="7.724" fill="#848478"/>
<rect x="518.472" y="337.508" width="7.724" height="7.724" fill="#828279"/>
<rect x="525.596" y="337.508" width="7.724" height="7.724" fill="#828279"/>
<rect x="532.720" y="337.508" width="7.724" height="7.724" fill="#828279"/>
<rect x="539.844" y="337.508" width="7.724" height="7.724" fill="#828279"/>
<rect x="546.968" y="337.508" width="7.724" height="7.724" fill="#838374"/>
<rect x="554.092" y="337.508" width="7.724" height="7.724" fill="#717277"/>
<rect x="561.216" y="337.508" width="7.724" height="7.724" fill="#717277"/>
<rect x="568.340" y="337.508" width="7.724" height="7.724" fill="#727377"/>
<rect x="575.464" y="337.508" width="7.724" height="7.724" fill="#6f7076"/>
<rect x="582.588" y="337.508" width="7.724" height="7.724" fill="#808079"/>
<rect x="589.712" y="337.508" width="7.724" height="7.724" fill="#767779"/>
<rect x="596.836" y="337.508" width="7.724" height="7.724" fill="#727477"/>
<rect x="603.960" y="337.508" width="7.724" height="7.724" fill="#858475"/>
<rect x="611.084" y="337.508" width="7.724" height="7.724" fill="#6f7076"/>
<rect x="618.208" y="337.508" width="7.124" height="7.724" fill="#767778"/>
<rect x="497.100" y="344.632" width="7.724" height="7.724" fill="#7c7d79"/>
<rect x="504.224" y="344.632" width="7.724" height="7.724" fill="#7c7d79"/>
<rect x="511.348" y="344.632" width="7.724" height="7.724" fill="#848478"/>
<rect x="518.472" y="344.632" width="7.724" height="7.724" fill="#6f7076"/>
<rect x="525.596" y="344.632" width="7.724" height="7.724" fill="#6f7076"/>
<rect x="532.720" y="344.632" width="7.724" height="7.724" fill="#6f7076"/>
<rect x="539.844" y="344.632" width="7.724" height="7.724" fill="#6f7076"/>
<rect x="546.968" y="344.632" width="7.724" height="7.724" fill="#838374"/>
<rect x="554.092" y="344.632" width="7.724" height="7.724" fill="#6b6e75"/>
<rect x="561.216" y="344.632" width="7.724" height="7.724" fill="#6b6e75"/>
<rect x="568.340" y="344.632" width="7.724" height="7.724" fill="#6f7076"/>
<rect x="575.464" y="344.632" width="7.724" height="7.724" fill="#4d5576"/>
<rect x="582.588" y="344.632" width="7.724" height="7.724" fill="#b4ae77"/>
<rect x="589.712" y="344.632" width="7.724" height="7.724" fill="#898877"/>
<rect x="596.836" y="344.632" width="7.724" height="7.724" fill="#7e7e78"/>
<rect x="603.960" y="344.632" width="7.724" height="7.724" fill="#ada777"/>
<rect x="611.084" y="344.632" width="7.724" height="7.724" fill="#9e9975"/>
<rect x="618.208" y="344.632" width="7.724" height="7.724" fill="#787978"/>
<rect x="625.332" y="344.632" width="7.124" height="7.724" fill="#e5e055"/>
<rect x="497.100" y="351.756" width="7.724" height="7.724" fill="#7b7c79"/>
<rect x="504.224" y="351.756" width="7.724" height="7.724" fill="#7b7c79"/>
<rect x="511.348" y="351.756" width="7.724" height="7.724" fill="#828279"/>
<rect x="518.472" y="351.756" width="7.724" height="7.724" fill="#676b76"/>
<rect x="525.596" y="351.756" width="7.724" height="7.724" fill="#676b76"/>
<rect x="532.720" y="351.756" width="7.724" height="7.724" fill="#676b76"/>
<rect x="539.844" y="351.756" width="7.724" height="7.724" fill="#676b76"/>
<rect x="546.968" y="351.756" width="7.724" height="7.724" fill="#838374"/>
<rect x="554.092" y="351.756" width="7.724" height="7.724" fill="#61667a"/>
<rect x="561.216" y="351.756" width="7.724" height="7.724" fill="#61667a"/>
<rect x="568.340" y="351.756" width="7.724" height="7.724" fill="#676a76"/>
<rect x="575.464" y="351.756" width="7.724" height="7.724" fill="#394a72"/>
<rect x="582.588" y="351.756" width="7.724" height="7.724" fill="#b8b278"/>
<rect x="589.712" y="351.756" width="7.724" height="7.724" fill="#898877"/>
<rect x="596.836" y="351.756" width="7.724" height="7.724" fill="#898877"/>
<rect x="603.960" y="351.756" width="7.724" height="7.724" fill="#a5a177"/>
<rect x="611.084" y="351.756" width="7.724" height="7.724" fill="#898877"/>
<rect x="618.208" y="351.756" width="7.724" height="7.724" fill="#747679"/>
<rect x="625.332" y="351.756" width="7.724" height="7.724" fill="#c7c271"/>
<rect x="632.456" y="351.756" width="7.124" height="7.724" fill="#e8e450"/>
<rect x="497.100" y="358.880" width="7.724" height="7.724" fill="#5c6279"/>
<rect x="504.224" y="358.880" width="7.724" height="7.724" fill="#5c6279"/>
<rect x="511.348" y="358.880" width="7.724" height="7.724" fill="#696c75"/>
<rect x="518.472" y="358.880" width="7.724" height="7.724" fill="#575e76"/>
<rect x="525.596" y="358.880" width="7.724" height="7.724" fill="#575e76"/>
<rect x="532.720" y="358.880" width="7.724" height="7.724" fill="#575e76"/>
<rect x="539.844" y="358.880" width="7.724" height="7.724" fill="#575e76"/>
<rect x="546.968" y="358.880" width="7.724" height="7.724" fill="#727477"/>
<rect x="554.092" y="358.880" width="7.724" height="7.724" fill="#6f7076"/>
<rect x="561.216" y="358.880" width="7.724" height="7.724" fill="#6f7076"/>
<rect x="568.340" y="358.880" width="7.724" height="7.724" fill="#727377"/>
<rect x="575.464" y="358.880" width="7.724" height="7.724" fill="#394a72"/>
<rect x="582.588" y="358.880" width="7.724" height="7.724" fill="#ada977"/>
<rect x="589.712" y="358.880" width="7.724" height="7.724" fill="#848478"/>
<rect x="596.836" y="358.880" width="7.724" height="7.724" fill="#ada777"/>
<rect x="603.960" y="358.880" width="7.724" height="7.724" fill="#a5a177"/>
<rect x="611.084" y="358.880" width="7.724" height="7.724" fill="#918f77"/>
<rect x="618.208" y="358.880" width="7.724" height="7.724" fill="#918f77"/>
<rect x="625.332" y="358.880" width="7.724" height="7.724" fill="#c5be72"/>
<rect x="632.456" y="358.880" width="7.724" height="7.724" fill="#e5e050"/>
<rect x="639.580" y="358.880" width="7.124" height="7.724" fill="#b8b278"/>
<rect x="497.100" y="366.004" width="7.724" height="7.724" fill="#9c9976"/>
<rect x="504.224" y="366.004" width="7.724" height="7.724" fill="#9c9976"/>
<rect x="511.348" y="366.004" width="7.724" height="7.724" fill="#b1ad7a"/>
<rect x="518.472" y="366.004" width="7.724" height="7.724" fill="#767776"/>
<rect x="525.596" y="366.004" width="7.724" height="7.724" fill="#767776"/>
<rect x="532.720" y="366.004" width="7.724" height="7.724" fill="#767776"/>
<rect x="539.844" y="366.004" width="7.724" height="7.724" fill="#767776"/>
<rect x="546.968" y="366.004" width="7.724" height="7.724" fill="#a7a377"/>
<rect x="554.092" y="366.004" width="7.724" height="7.724" fill="#e0d855"/>
<rect x="561.216" y="366.004" width="7.724" height="7.724" fill="#e0d855"/>
<rect x="568.340" y="366.004" width="7.724" height="7.724" fill="#e0d855"/>
<rect x="575.464" y="366.004" width="7.724" height="7.724" fill="#7c7c77"/>
<rect x="582.588" y="366.004" width="7.724" height="7.724" fill="#7e7e78"/>
<rect x="589.712" y="366.004" width="7.724" height="7.724" fill="#4d5676"/>
<rect x="596.836" y="366.004" width="7.724" height="7.724" fill="#5c6279"/>
<rect x="603.960" y="366.004" width="7.724" height="7.724" fill="#404c6f"/>
<rect x="611.084" y="366.004" width="7.724" height="7.724" fill="#434e6f"/>
<rect x="618.208" y="366.004" width="7.724" height="7.724" fill="#747576"/>
<rect x="625.332" y="366.004" width="7.724" height="7.724" fill="#293f6c"/>
<rect x="632.456" y="366.004" width="7.724" height="7.724" fill="#424e6f"/>
<rect x="639.580" y="366.004" width="7.724" height="7.724" fill="#626675"/>
<rect x="646.704" y="366.004" width="7.124" height="7.724" fill="#7d7d78"/>
<rect x="497.100" y="373.128" width="7.724" height="7.724" fill="#9c9976"/>
<rect x="504.224" y="373.128" width="7.724" height="7.724" fill="#9c9976"/>
<rect x="511.348" y="373.128" width="7.724" height="7.724" fill="#b1ad7a"/>
<rect x="518.472" y="373.128" width="7.724" height="7.724" fill="#767776"/>
<rect x="525.596" y="373.128" width="7.724" height="7.724" fill="#767776"/>
<rect x="532.720" y="373.128" width="7.724" height="7.724" fill="#767776"/>
<rect x="539.844" y="373.128" width="7.724" height="7.724" fill="#767776"/>
<rect x="546.968" y="373.128" width="7.724" height="7.724" fill="#a7a377"/>
<rect x="554.092" y="373.128" width="7.724" height="7.724" fill="#e0d855"/>
<rect x="561.216" y="373.128" width="7.724" height="7.724" fill="#e0d855"/>
<rect x="568.340" y="373.128" width="7.724" height="7.724" fill="#e0d855"/>
<rect x="575.464" y="373.128" width="7.724" height="7.724" fill="#7c7c77"/>
<rect x="582.588" y="373.128" width="7.724" height="7.724" fill="#7e7e78"/>
<rect x="589.712" y="373.128" width="7.724" height="7.724" fill="#4d5676"/>
<rect x="596.836" y="373.128" width="7.724" height="7.724" fill="#5c6279"/>
<rect x="603.960" y="373.128" width="7.724" height="7.724" fill="#404c6f"/>
<rect x="611.084" y="373.128" width="7.724" height="7.724" fill="#434e6f"/>
<rect x="618.208" y="373.128" width="7.724" height="7.724" fill="#747576"/>
<rect x="625.332" y="373.128" width="7.724" height="7.724" fill="#293f6c"/>
<rect x="632.456" y="373.128" width="7.724" height="7.724" fill="#424e6f"/>
<rect x="639.580" y="373.128" width="7.724" height="7.724" fill="#626675"/>
<rect x="646.704" y="373.128" width="7.724" height="7.724" fill="#7d7d78"/>
<rect x="653.828" y="373.128" width="7.124" height="7.724" fill="#7d7d78"/>
<rect x="497.100" y="380.252" width="7.724" height="7.724" fill="#9c9976"/>
<rect x="504.224" y="380.252" width="7.724" height="7.724" fill="#9c9976"/>
<rect x="511.348" y="380.252" width="7.724" height="7.724" fill="#b1ad7a"/>
<rect x="518.472" y="380.252" width="7.724" height="7.724" fill="#767776"/>
<rect x="525.596" y="380.252" width="7.724" height="7.724" fill="#767776"/>
<rect x="532.720" y="380.252" width="7.724" height="7.724" fill="#767776"/>
<rect x="539.844" y="380.252" width="7.724" height="7.724" fill="#767776"/>
<rect x="546.968" y="380.252" width="7.724" height="7.724" fill="#a7a377"/>
<rect x="554.092" y="380.252" width="7.724" height="7.724" fill="#e0d855"/>
<rect x="561.216" y="380.252" width="7.724" height="7.724" fill="#e0d855"/>
<rect x="568.340" y="380.252" width="7.724" height="7.724" fill="#e0d855"/>
<rect x="575.464" y="380.252" width="7.724" height="7.724" fill="#7c7c77"/>
<rect x="582.588" y="380.252" width="7.724" height="7.724" fill="#7e7e78"/>
<rect x="589.712" y="380.252" width="7.724" height="7.724" fill="#4d5676"/>
<rect x="596.836" y="380.252" width="7.724" height="7.724" fill="#5c6279"/>
<rect x="603.960" y="380.252" width="7.724" height="7.724" fill="#404c6f"/>
<rect x="611.084" y="380.252" width="7.724" height="7.724" fill="#434e6f"/>
<rect x="618.208" y="380.252" width="7.724" height="7.724" fill="#747576"/>
<rect x="625.332" y="380.252" width="7.724" height="7.724" fill="#293f6c"/>
<rect x="632.456" y="380.252" width="7.724" height="7.724" fill="#424e6f"/>
<rect x="639.580" y="380.252" width="7.724" height="7.724" fill="#626675"/>
<rect x="646.704" y="380.252" width="7.724" height="7.724" fill="#7d7d78"/>
<rect x="653.828" y="380.252" width="7.724" height="7.724" fill="#7d7d78"/>
<rect x="660.952" y="380.252" width="7.124" height="7.724" fill="#7d7d78"/>
<rect x="497.100" y="387.376" width="7.724" height="7.124" fill="#606479"/>
<rect x="504.224" y="387.376" width="7.724" height="7.124" fill="#606479"/>
<rect x="511.348" y="387.376" width="7.724" height="7.124" fill="#6f7076"/>
<rect x="518.472" y="387.376" width="7.724" height="7.124" fill="#575e76"/>
<rect x="525.596" y="387.376" width="7.724" height="7.124" fill="#575e76"/>
<rect x="532.720" y="387.376" width="7.724" height="7.124" fill="#575e76"/>
<rect x="539.844" y="387.376" width="7.724" height="7.124" fill="#575e76"/>
<rect x="546.968" y="387.376" width="7.724" height="7.124" fill="#727477"/>
<rect x="554.092" y="387.376" width="7.724" height="7.124" fill="#a7a377"/>
<rect x="561.216" y="387.376" width="7.724" height="7.124" fill="#a7a377"/>
<rect x="568.340" y="387.376" width="7.724" height="7.124" fill="#a5a177"/>
<rect x="575.464" y="387.376" width="7.724" height="7.124" fill="#5c6279"/>
<rect x="582.588" y="387.376" width="7.724" height="7.124" fill="#9c9976"/>
<rect x="589.712" y="387.376" width="7.724" height="7.124" fill="#6b6e75"/>
<rect x="596.836" y="387.376" width="7.724" height="7.124" fill="#898877"/>
<rect x="603.960" y="387.376" width="7.724" height="7.124" fill="#7f7e78"/>
<rect x="611.084" y="387.376" width="7.724" height="7.124" fill="#7f7e78"/>
<rect x="618.208" y="387.376" width="7.724" height="7.124" fill="#9e9975"/>
<rect x="625.332" y="387.376" width="7.724" height="7.124" fill="#767779"/>
<rect x="632.456" y="387.376" width="7.724" height="7.124" fill="#8e8b76"/>
<rect x="639.580" y="387.376" width="7.724" height="7.124" fill="#a7a377"/>
<rect x="646.704" y="387.376" width="7.724" height="7.124" fill="#787a77"/>
<rect x="653.828" y="387.376" width="7.724" height="7.124" fill="#787a77"/>
<rect x="660.952" y="387.376" width="7.724" height="7.124" fill="#787a77"/>
<rect x="668.076" y="387.376" width="7.124" height="7.124" fill="#787a77"/>
<line x1="494.35" y1="219.96" x2="497.1" y2="219.96" stroke="#b3b3b3" stroke-width="0.7"/>
<text transform="translate(491.2,222.91) scale(1,1.18)" font-size="8.1" text-anchor="end" font-family="Liberation Sans, sans-serif" fill="#4d4d4d">HOLS</text>
<line x1="500.66" y1="394.50" x2="500.66" y2="397.25" stroke="#b3b3b3" stroke-width="0.7"/>
<text transform="translate(503.26,399.9) rotate(-90) scale(1.03,1.12)" font-size="8.1" text-anchor="end" font-family="Liberation Sans, sans-serif" fill="#4d4d4d">HOLS</text>
<line x1="494.35" y1="227.09" x2="497.1" y2="227.09" stroke="#b3b3b3" stroke-width="0.7"/>
<text transform="translate(491.2,230.04) scale(1,1.18)" font-size="8.1" text-anchor="end" font-family="Liberation Sans, sans-serif" fill="#4d4d4d">ANGU</text>
<line x1="507.79" y1="394.50" x2="507.79" y2="397.25" stroke="#b3b3b3" stroke-width="0.7"/>
<text transform="translate(510.39,399.9) rotate(-90) scale(1.03,1.12)" font-size="8.1" text-anchor="end" font-family="Liberation Sans, sans-serif" fill="#4d4d4d">ANGU</text>
<line x1="494.35" y1="234.21" x2="497.1" y2="234.21" stroke="#b3b3b3" stroke-width="0.7"/>
<text transform="translate(491.2,237.16) scale(1,1.18)" font-size="8.1" text-anchor="end" font-family="Liberation Sans, sans-serif" fill="#4d4d4d">JERS</text>
<line x1="514.91" y1="394.50" x2="514.91" y2="397.25" stroke="#b3b3b3" stroke-width="0.7"/>
<text transform="translate(517.51,399.9) rotate(-90) scale(1.03,1.12)" font-size="8.1" text-anchor="end" font-family="Liberation Sans, sans-serif" fill="#4d4d4d">JERS</text>
<line x1="494.35" y1="241.33" x2="497.1" y2="241.33" stroke="#b3b3b3" stroke-width="0.7"/>
<text transform="translate(491.2,244.28) scale(1,1.18)" font-size="8.1" text-anchor="end" font-family="Liberation Sans, sans-serif" fill="#4d4d4d">ROMA</text>
<line x1="522.03" y1="394.50" x2="522.03" y2="397.25" stroke="#b3b3b3" stroke-width="0.7"/>
<text transform="translate(524.63,399.9) rotate(-90) scale(1.03,1.12)" font-size="8.1" text-anchor="end" font-family="Liberation Sans, sans-serif" fill="#4d4d4d">ROMA</text>
<line x1="494.35" y1="248.46" x2="497.1" y2="248.46" stroke="#b3b3b3" stroke-width="0.7"/>
<text transform="translate(491.2,251.41) scale(1,1.18)" font-size="8.1" text-anchor="end" font-family="Liberation Sans, sans-serif" fill="#4d4d4d">CHIA</text>
<line x1="529.16" y1="394.50" x2="529.16" y2="397.25" stroke="#b3b3b3" stroke-width="0.7"/>
<text transform="translate(531.76,399.9) rotate(-90) scale(1.03,1.12)" font-size="8.1" text-anchor="end" font-family="Liberation Sans, sans-serif" fill="#4d4d4d">CHIA</text>
<line x1="494.35" y1="255.58" x2="497.1" y2="255.58" stroke="#b3b3b3" stroke-width="0.7"/>
<text transform="translate(491.2,258.53) scale(1,1.18)" font-size="8.1" text-anchor="end" font-family="Liberation Sans, sans-serif" fill="#4d4d4d">MARC</text>
<line x1="536.28" y1="394.50" x2="536.28" y2="397.25" stroke="#b3b3b3" stroke-width="0.7"/>
<text transform="translate(538.88,399.9) rotate(-90) scale(1.03,1.12)" font-size="8.1" text-anchor="end" font-family="Liberation Sans, sans-serif" fill="#4d4d4d">MARC</text>
<line x1="494.35" y1="262.71" x2="497.1" y2="262.71" stroke="#b3b3b3" stroke-width="0.7"/>
<text transform="translate(491.2,265.66) scale(1,1.18)" font-size="8.1" text-anchor="end" font-family="Liberation Sans, sans-serif" fill="#4d4d4d">MARE</text>
<line x1="543.41" y1="394.50" x2="543.41" y2="397.25" stroke="#b3b3b3" stroke-width="0.7"/>
<text transform="translate(546.01,399.9) rotate(-90) scale(1.03,1.12)" font-size="8.1" text-anchor="end" font-family="Liberation Sans, sans-serif" fill="#4d4d4d">MARE</text>
<line x1="494.35" y1="269.83" x2="497.1" y2="269.83" stroke="#b3b3b3" stroke-width="0.7"/>
<text transform="translate(491.2,272.78) scale(1,1.18)" font-size="8.1" text-anchor="end" font-family="Liberation Sans, sans-serif" fill="#4d4d4d">ALEN</text>
<line x1="550.53" y1="394.50" x2="550.53" y2="397.25" stroke="#b3b3b3" stroke-width="0.7"/>
<text transform="translate(553.13,399.9) rotate(-90) scale(1.03,1.12)" font-size="8.1" text-anchor="end" font-family="Liberation Sans, sans-serif" fill="#4d4d4d">ALEN</text>
<line x1="494.35" y1="276.95" x2="497.1" y2="276.95" stroke="#b3b3b3" stroke-width="0.7"/>
<text transform="translate(491.2,279.90) scale(1,1.18)" font-size="8.1" text-anchor="end" font-family="Liberation Sans, sans-serif" fill="#4d4d4d">MUTU</text>
<line x1="557.65" y1="394.50" x2="557.65" y2="397.25" stroke="#b3b3b3" stroke-width="0.7"/>
<text transform="translate(560.25,399.9) rotate(-90) scale(1.03,1.12)" font-size="8.1" text-anchor="end" font-family="Liberation Sans, sans-serif" fill="#4d4d4d">MUTU</text>
<line x1="494.35" y1="284.08" x2="497.1" y2="284.08" stroke="#b3b3b3" stroke-width="0.7"/>
<text transform="translate(491.2,287.03) scale(1,1.18)" font-size="8.1" text-anchor="end" font-family="Liberation Sans, sans-serif" fill="#4d4d4d">LAGU</text>
<line x1="564.78" y1="394.50" x2="564.78" y2="397.25" stroke="#b3b3b3" stroke-width="0.7"/>
<text transform="translate(567.38,399.9) rotate(-90) scale(1.03,1.12)" font-size="8.1" text-anchor="end" font-family="Liberation Sans, sans-serif" fill="#4d4d4d">LAGU</text>
<line x1="494.35" y1="291.20" x2="497.1" y2="291.20" stroke="#b3b3b3" stroke-width="0.7"/>
<text transform="translate(491.2,294.15) scale(1,1.18)" font-size="8.1" text-anchor="end" font-family="Liberation Sans, sans-serif" fill="#4d4d4d">NDAG</text>
<line x1="571.90" y1="394.50" x2="571.90" y2="397.25" stroke="#b3b3b3" stroke-width="0.7"/>
<text transform="translate(574.50,399.9) rotate(-90) scale(1.03,1.12)" font-size="8.1" text-anchor="end" font-family="Liberation Sans, sans-serif" fill="#4d4d4d">NDAG</text>
<line x1="494.35" y1="298.33" x2="497.1" y2="298.33" stroke="#b3b3b3" stroke-width="0.7"/>
<text transform="translate(491.2,301.28) scale(1,1.18)" font-size="8.1" text-anchor="end" font-family="Liberation Sans, sans-serif" fill="#4d4d4d">NDAM</text>
<line x1="579.03" y1="394.50" x2="579.03" y2="397.25" stroke="#b3b3b3" stroke-width="0.7"/>
<text transform="translate(581.63,399.9) rotate(-90) scale(1.03,1.12)" font-size="8.1" text-anchor="end" font-family="Liberation Sans, sans-serif" fill="#4d4d4d">NDAM</text>
<line x1="494.35" y1="305.45" x2="497.1" y2="305.45" stroke="#b3b3b3" stroke-width="0.7"/>
<text transform="translate(491.2,308.40) scale(1,1.18)" font-size="8.1" text-anchor="end" font-family="Liberation Sans, sans-serif" fill="#4d4d4d">BORG</text>
<line x1="586.15" y1="394.50" x2="586.15" y2="397.25" stroke="#b3b3b3" stroke-width="0.7"/>
<text transform="translate(588.75,399.9) rotate(-90) scale(1.03,1.12)" font-size="8.1" text-anchor="end" font-family="Liberation Sans, sans-serif" fill="#4d4d4d">BORG</text>
<line x1="494.35" y1="312.57" x2="497.1" y2="312.57" stroke="#b3b3b3" stroke-width="0.7"/>
<text transform="translate(491.2,315.52) scale(1,1.18)" font-size="8.1" text-anchor="end" font-family="Liberation Sans, sans-serif" fill="#4d4d4d">SOMB</text>
<line x1="593.27" y1="394.50" x2="593.27" y2="397.25" stroke="#b3b3b3" stroke-width="0.7"/>
<text transform="translate(595.87,399.9) rotate(-90) scale(1.03,1.12)" font-size="8.1" text-anchor="end" font-family="Liberation Sans, sans-serif" fill="#4d4d4d">SOMB</text>
<line x1="494.35" y1="319.70" x2="497.1" y2="319.70" stroke="#b3b3b3" stroke-width="0.7"/>
<text transform="translate(491.2,322.65) scale(1,1.18)" font-size="8.1" text-anchor="end" font-family="Liberation Sans, sans-serif" fill="#4d4d4d">KETE</text>
<line x1="600.40" y1="394.50" x2="600.40" y2="397.25" stroke="#b3b3b3" stroke-width="0.7"/>
<text transform="translate(603.00,399.9) rotate(-90) scale(1.03,1.12)" font-size="8.1" text-anchor="end" font-family="Liberation Sans, sans-serif" fill="#4d4d4d">KETE</text>
<line x1="494.35" y1="326.82" x2="497.1" y2="326.82" stroke="#b3b3b3" stroke-width="0.7"/>
<text transform="translate(491.2,329.77) scale(1,1.18)" font-size="8.1" text-anchor="end" font-family="Liberation Sans, sans-serif" fill="#4d4d4d">SHEK</text>
<line x1="607.52" y1="394.50" x2="607.52" y2="397.25" stroke="#b3b3b3" stroke-width="0.7"/>
<text transform="translate(610.12,399.9) rotate(-90) scale(1.03,1.12)" font-size="8.1" text-anchor="end" font-family="Liberation Sans, sans-serif" fill="#4d4d4d">SHEK</text>
<line x1="494.35" y1="333.95" x2="497.1" y2="333.95" stroke="#b3b3b3" stroke-width="0.7"/>
<text transform="translate(491.2,336.90) scale(1,1.18)" font-size="8.1" text-anchor="end" font-family="Liberation Sans, sans-serif" fill="#4d4d4d">ANKO</text>
<line x1="614.65" y1="394.50" x2="614.65" y2="397.25" stroke="#b3b3b3" stroke-width="0.7"/>
<text transform="translate(617.25,399.9) rotate(-90) scale(1.03,1.12)" font-size="8.1" text-anchor="end" font-family="Liberation Sans, sans-serif" fill="#4d4d4d">ANKO</text>
<line x1="494.35" y1="341.07" x2="497.1" y2="341.07" stroke="#b3b3b3" stroke-width="0.7"/>
<text transform="translate(491.2,344.02) scale(1,1.18)" font-size="8.1" text-anchor="end" font-family="Liberation Sans, sans-serif" fill="#4d4d4d">NGAN</text>
<line x1="621.77" y1="394.50" x2="621.77" y2="397.25" stroke="#b3b3b3" stroke-width="0.7"/>
<text transform="translate(624.37,399.9) rotate(-90) scale(1.03,1.12)" font-size="8.1" text-anchor="end" font-family="Liberation Sans, sans-serif" fill="#4d4d4d">NGAN</text>
<line x1="494.35" y1="348.19" x2="497.1" y2="348.19" stroke="#b3b3b3" stroke-width="0.7"/>
<text transform="translate(491.2,351.14) scale(1,1.18)" font-size="8.1" text-anchor="end" font-family="Liberation Sans, sans-serif" fill="#4d4d4d">EASZ</text>
<line x1="628.89" y1="394.50" x2="628.89" y2="397.25" stroke="#b3b3b3" stroke-width="0.7"/>
<text transform="translate(631.49,399.9) rotate(-90) scale(1.03,1.12)" font-size="8.1" text-anchor="end" font-family="Liberation Sans, sans-serif" fill="#4d4d4d">EASZ</text>
<line x1="494.35" y1="355.32" x2="497.1" y2="355.32" stroke="#b3b3b3" stroke-width="0.7"/>
<text transform="translate(491.2,358.27) scale(1,1.18)" font-size="8.1" text-anchor="end" font-family="Liberation Sans, sans-serif" fill="#4d4d4d">KARA</text>
<line x1="636.02" y1="394.50" x2="636.02" y2="397.25" stroke="#b3b3b3" stroke-width="0.7"/>
<text transform="translate(638.62,399.9) rotate(-90) scale(1.03,1.12)" font-size="8.1" text-anchor="end" font-family="Liberation Sans, sans-serif" fill="#4d4d4d">KARA</text>
<line x1="494.35" y1="362.44" x2="497.1" y2="362.44" stroke="#b3b3b3" stroke-width="0.7"/>
<text transform="translate(491.2,365.39) scale(1,1.18)" font-size="8.1" text-anchor="end" font-family="Liberation Sans, sans-serif" fill="#4d4d4d">BORA</text>
<line x1="643.14" y1="394.50" x2="643.14" y2="397.25" stroke="#b3b3b3" stroke-width="0.7"/>
<text transform="translate(645.74,399.9) rotate(-90) scale(1.03,1.12)" font-size="8.1" text-anchor="end" font-family="Liberation Sans, sans-serif" fill="#4d4d4d">BORA</text>
<line x1="494.35" y1="369.57" x2="497.1" y2="369.57" stroke="#b3b3b3" stroke-width="0.7"/>
<text transform="translate(491.2,372.52) scale(1,1.18)" font-size="8.1" text-anchor="end" font-family="Liberation Sans, sans-serif" fill="#4d4d4d">THAR</text>
<line x1="650.27" y1="394.50" x2="650.27" y2="397.25" stroke="#b3b3b3" stroke-width="0.7"/>
<text transform="translate(652.87,399.9) rotate(-90) scale(1.03,1.12)" font-size="8.1" text-anchor="end" font-family="Liberation Sans, sans-serif" fill="#4d4d4d">THAR</text>
<line x1="494.35" y1="376.69" x2="497.1" y2="376.69" stroke="#b3b3b3" stroke-width="0.7"/>
<text transform="translate(491.2,379.64) scale(1,1.18)" font-size="8.1" text-anchor="end" font-family="Liberation Sans, sans-serif" fill="#4d4d4d">GIR</text>
<line x1="657.39" y1="394.50" x2="657.39" y2="397.25" stroke="#b3b3b3" stroke-width="0.7"/>
<text transform="translate(659.99,399.9) rotate(-90) scale(1.03,1.12)" font-size="8.1" text-anchor="end" font-family="Liberation Sans, sans-serif" fill="#4d4d4d">GIR</text>
<line x1="494.35" y1="383.81" x2="497.1" y2="383.81" stroke="#b3b3b3" stroke-width="0.7"/>
<text transform="translate(491.2,386.76) scale(1,1.18)" font-size="8.1" text-anchor="end" font-family="Liberation Sans, sans-serif" fill="#4d4d4d">NELO</text>
<line x1="664.51" y1="394.50" x2="664.51" y2="397.25" stroke="#b3b3b3" stroke-width="0.7"/>
<text transform="translate(667.11,399.9) rotate(-90) scale(1.03,1.12)" font-size="8.1" text-anchor="end" font-family="Liberation Sans, sans-serif" fill="#4d4d4d">NELO</text>
<line x1="494.35" y1="390.94" x2="497.1" y2="390.94" stroke="#b3b3b3" stroke-width="0.7"/>
<text transform="translate(491.2,393.89) scale(1,1.18)" font-size="8.1" text-anchor="end" font-family="Liberation Sans, sans-serif" fill="#4d4d4d">GAUR</text>
<line x1="671.64" y1="394.50" x2="671.64" y2="397.25" stroke="#b3b3b3" stroke-width="0.7"/>
<text transform="translate(674.24,399.9) rotate(-90) scale(1.03,1.12)" font-size="8.1" text-anchor="end" font-family="Liberation Sans, sans-serif" fill="#4d4d4d">GAUR</text>
<line x1="465.9" y1="218.10" x2="465.9" y2="236.07" stroke="#8fcc7e" stroke-width="1.5"/>
<line x1="498.80" y1="425.2" x2="516.77" y2="425.2" stroke="#8fcc7e" stroke-width="1.5"/>
<line x1="465.9" y1="239.47" x2="465.9" y2="271.69" stroke="#74c4a0" stroke-width="1.5"/>
<line x1="520.17" y1="425.2" x2="552.39" y2="425.2" stroke="#74c4a0" stroke-width="1.5"/>
<line x1="465.9" y1="275.09" x2="465.9" y2="293.06" stroke="#6a8fd8" stroke-width="1.5"/>
<line x1="555.79" y1="425.2" x2="573.76" y2="425.2" stroke="#6a8fd8" stroke-width="1.5"/>
<line x1="465.9" y1="296.46" x2="465.9" y2="328.68" stroke="#a070c8" stroke-width="1.5"/>
<line x1="577.16" y1="425.2" x2="609.38" y2="425.2" stroke="#a070c8" stroke-width="1.5"/>
<line x1="465.9" y1="332.08" x2="465.9" y2="364.30" stroke="#ea7d55" stroke-width="1.5"/>
<line x1="612.78" y1="425.2" x2="645.00" y2="425.2" stroke="#ea7d55" stroke-width="1.5"/>
<line x1="465.9" y1="367.70" x2="465.9" y2="385.68" stroke="#dd4a4a" stroke-width="1.5"/>
<line x1="648.40" y1="425.2" x2="666.38" y2="425.2" stroke="#dd4a4a" stroke-width="1.5"/>
<line x1="465.9" y1="389.08" x2="465.9" y2="392.80" stroke="#888888" stroke-width="1.5"/>
<line x1="669.78" y1="425.2" x2="673.50" y2="425.2" stroke="#888888" stroke-width="1.5"/>
</svg></div>
</body></html>
